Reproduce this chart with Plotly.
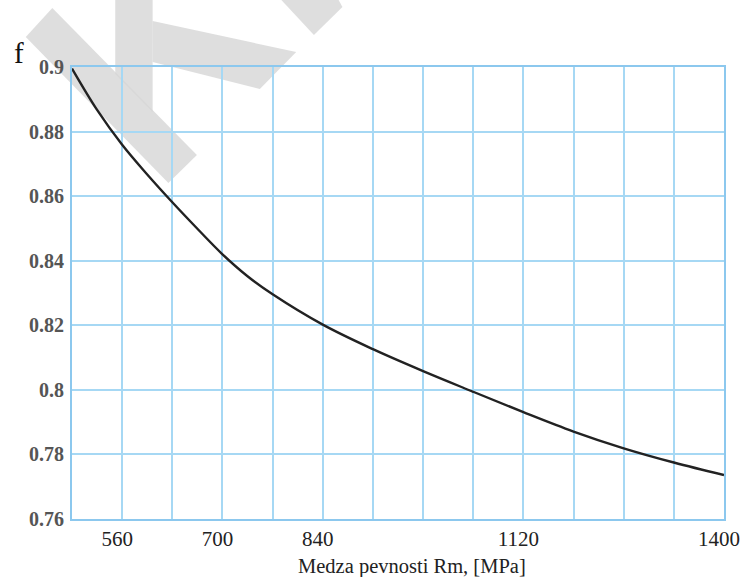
import plotly.graph_objects as go

# Tensile strength Rm [MPa] and factor f
rm_values = [490, 525, 560, 595, 630, 665, 700, 735, 770, 840, 910, 980, 1050, 1120, 1190, 1260, 1330, 1400]
f_values = [0.8995, 0.8867, 0.8759, 0.8667, 0.8581, 0.8499, 0.8420, 0.8352, 0.8296, 0.8202,
            0.8126, 0.8058, 0.7994, 0.7931, 0.7871, 0.7819, 0.7775, 0.7736]

# Axis grid positions and their labels
x_grid = [490, 560, 630, 700, 770, 840, 910, 980, 1050, 1120, 1190, 1260, 1330, 1400]
x_labels = ["", "560", "", "700", "", "840", "", "", "", "1120", "", "", "", "1400"]
y_grid = [0.76, 0.78, 0.80, 0.82, 0.84, 0.86, 0.88, 0.90]
y_labels = ["0.76", "0.78", "0.8", "0.82", "0.84", "0.86", "0.88", "0.9"]

W, H = 752, 577
L, R, T, B = 72, 735, 67, 519
PW, PH = R - L, B - T


def px(xp, yp):
    """Convert page pixels to paper fractions."""
    return (xp - L) / PW, (B - yp) / PH


def poly(points):
    parts = []
    for i, (a, b) in enumerate(points):
        xx, yy = px(a, b)
        parts.append(("M" if i == 0 else "L") + f"{xx:.5f},{yy:.5f}")
    return " ".join(parts) + " Z"


# light grey "K" mark laid across the upper-left corner
mark_polys = [
    [(52, 8), (199, 155), (170, 183), (25, 37)],
    [(116, -2), (154, -2), (154, 112), (116, 74)],
    [(154, 21), (300, 52), (263, 89), (154, 62)],
    [(283, -2), (342, -2), (347, 7), (318, 35)],
]

GRID = "#a6d8f4"
SERIF = "Times New Roman, Liberation Serif, serif"

fig = go.Figure()
fig.add_trace(go.Scatter(
    x=rm_values, y=f_values, mode="lines",
    line=dict(color="#222222", width=2.4, shape="spline", smoothing=1.0),
    hoverinfo="skip", showlegend=False,
))

shapes = [
    dict(type="path", path=poly(p), xref="paper", yref="paper",
         fillcolor="rgb(214,214,214)", opacity=0.8, line=dict(width=0),
         layer="between")
    for p in mark_polys
]

fig.update_layout(
    width=W, height=H,
    margin=dict(l=L, r=W - R, t=T, b=H - B),
    paper_bgcolor="white", plot_bgcolor="white",
    shapes=shapes,
    xaxis=dict(
        range=[490, 1400], tickmode="array", tickvals=x_grid, ticktext=x_labels,
        showgrid=True, gridcolor=GRID, gridwidth=1.6, zeroline=False,
        showline=True, linecolor="#8cc8ee", linewidth=2, mirror=True,
        ticks="", ticklabelshift=-5, ticklabelstandoff=0,
        tickfont=dict(family=SERIF, size=21, color="#222222"),
    ),
    yaxis=dict(
        range=[0.76, 0.90], tickmode="array", tickvals=y_grid, ticktext=y_labels,
        showgrid=True, gridcolor=GRID, gridwidth=1.6, zeroline=False,
        showline=True, linecolor="#8cc8ee", linewidth=2, mirror=True,
        ticks="", ticklabelstandoff=2,
        tickfont=dict(family=SERIF, size=20, color="#555555", weight="bold"),
    ),
    annotations=[
        dict(text="f", xref="paper", yref="paper", x=px(18, 53)[0], y=px(18, 53)[1],
             showarrow=False, xanchor="center", yanchor="middle",
             font=dict(family=SERIF, size=29, color="#111111")),
        dict(text="Medza pevnosti Rm, [MPa]", xref="paper", yref="paper",
             x=px(418, 566)[0], y=px(418, 566)[1], showarrow=False,
             xanchor="center", yanchor="middle",
             font=dict(family=SERIF, size=20.5, color="#222222")),
    ],
)

fig.write_html("out.html")
